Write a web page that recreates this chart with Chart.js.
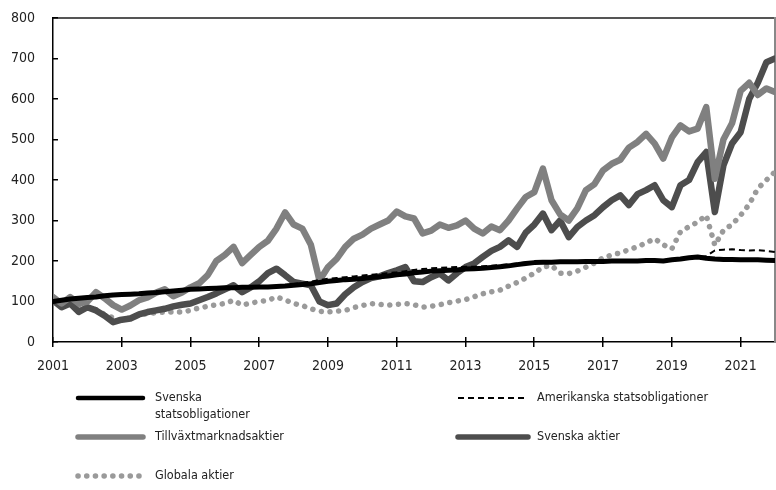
<!DOCTYPE html>
<html>
<head>
<meta charset="utf-8">
<script src="https://cdn.jsdelivr.net/npm/chart.js@4.4.1/dist/chart.umd.min.js"></script>
<style>
  html, body { margin: 0; padding: 0; background: #fff; }
  #wrap { width: 776px; height: 490px; }
</style>
</head>
<body>
<div id="wrap"><canvas id="chart_Avkastning" width="776" height="490"></canvas></div>
<script>
// quarterly observations, 2001 Q1 .. 2022 Q1 (index 100 = start)
const startYear = 2001;
const yearTicks = [2001, 2003, 2005, 2007, 2009, 2011, 2013, 2015, 2017, 2019, 2021];
const yTicks = [0, 100, 200, 300, 400, 500, 600, 700, 800];

const sweBonds = [
  100, 103, 106, 108,  110, 111, 114, 116,  117, 118, 119, 121,  122, 124, 126, 128,
  130, 131, 132, 133,  134, 134, 135, 135,  136, 136, 137, 138,  140, 142, 144, 147,
  150, 152, 154, 155,  157, 159, 161, 163,  166, 168, 171, 173,  175, 176, 177, 178,
  180, 181, 182, 184,  186, 188, 191, 194,  196, 197, 197, 198,  198, 198, 199, 199,
  199, 200, 200, 200,  200, 201, 201, 200,  203, 205, 208, 210,  207, 205, 204, 204,
  203, 203, 203, 202,  201
];
const usBonds = [
  100, 104, 107, 109,  111, 112, 115, 117,  118, 119, 120, 122,  123, 125, 127, 129,
  131, 132, 133, 134,  135, 135, 136, 136,  137, 137, 138, 140,  143, 146, 149, 153,
  156, 158, 160, 162,  164, 166, 168, 170,  172, 175, 178, 180,  182, 183, 184, 185,
  186, 186, 187, 188,  190, 192, 194, 196,  197, 198, 198, 199,  199, 199, 200, 200,
  200, 201, 201, 201,  201, 202, 202, 202,  204, 206, 209, 211,  212, 226, 228, 229,
  227, 226, 227, 225,  222
];
const emStocks = [
  111, 95, 111, 95,    100, 123, 108, 91,   80, 90, 103, 110,    122, 130, 113, 122,
  135, 145, 165, 200,  215, 235, 195, 215,  235, 250, 280, 320,  290, 280, 240, 152,
  185, 205, 235, 255,  265, 280, 290, 300,  322, 310, 305, 268,  275, 290, 282, 288,
  300, 280, 268, 285,  276, 300, 330, 358,  370, 428, 350, 315,  300, 330, 375, 390,
  424, 440, 450, 480,  494, 514, 490, 453,  505, 535, 520, 527,  580, 403, 500, 540,
  620, 640, 610, 626,  617
];
const sweStocks = [
  103, 86, 95, 74,     86, 78, 65, 49,      55, 58, 68, 74,      78, 82, 88, 92,
  95, 103, 111, 120,   130, 140, 123, 135,  150, 170, 181, 165,  148, 144, 140, 100,
  91, 95, 118, 135,    148, 158, 162, 170,  177, 185, 150, 148,  160, 169, 152, 170,
  185, 194, 210, 225,  235, 251, 235, 270,  290, 317, 276, 300,  259, 284, 300, 313,
  333, 350, 362, 338,  365, 375, 387, 350,  333, 387, 400, 444,  469, 321, 436, 490,
  518, 600, 640, 691,  700
];
const globalStocks = [
  99, 97, 95, 90,      86, 80, 68, 60,      54, 60, 67, 70,      72, 74, 74, 74,
  78, 84, 88, 92,      95, 103, 91, 96,     100, 103, 111, 104,  95, 90, 82, 76,
  74, 76, 78, 85,      90, 95, 93, 91,      93, 95, 92, 86,      88, 92, 97, 101,
  105, 112, 119, 124,  128, 138, 147, 158,  170, 185, 189, 170,  169, 175, 185, 195,
  208, 215, 220, 228,  235, 245, 255, 240,  230, 272, 285, 296,  313, 239, 276, 290,
  313, 340, 379, 400,  420
];

function toPoints(values) {
  return values.map((v, i) => ({ x: startYear + i / 4, y: v }));
}

const fontFamily = "'Liberation Sans Narrow', 'DejaVu Sans Condensed', 'Arial Narrow', sans-serif";

const seriesDefs = [
  { label: 'Svenska\nstatsobligationer', data: sweBonds, color: '#000000', width: 5, dash: [], cap: 'round', order: 1 },
  { label: 'Amerikanska statsobligationer', data: usBonds, color: '#000000', width: 2, dash: [6, 4], cap: 'butt', order: 0 },
  { label: 'Tillväxtmarknadsaktier', data: emStocks, color: '#808080', width: 6.5, dash: [], cap: 'round', order: 2 },
  { label: 'Svenska aktier', data: sweStocks, color: '#4d4d4d', width: 6.5, dash: [], cap: 'round', order: 3 },
  { label: 'Globala aktier', data: globalStocks, color: '#9a9a9a', width: 5.5, dash: [0.1, 8.6], cap: 'round', order: 4 }
];

// legend placement (two columns, sample line + text)
const legendSlots = [
  { x: 78, y: 398 },
  { x: 458, y: 398 },
  { x: 78, y: 437 },
  { x: 458, y: 437 },
  { x: 78, y: 476 }
];

// tick marks (inward on y, crossing on x) + legend
const framePlugin = {
  id: 'framePlugin',
  afterDraw(chart) {
    const ctx = chart.ctx;
    const a = chart.chartArea;
    const xs = chart.scales.x;
    const ys = chart.scales.y;
    const L = Math.round(a.left), B = Math.round(a.bottom);
    ctx.save();
    ctx.setLineDash([]);
    ctx.fillStyle = '#000000';
    yTicks.forEach(v => {
      const py = Math.round(ys.getPixelForValue(v));
      ctx.fillRect(L, py - 1, 5, 1.5);
    });
    yearTicks.forEach(v => {
      const px = Math.round(xs.getPixelForValue(v));
      ctx.fillRect(px - 1, B - 5, 1.5, 10);
    });

    ctx.font = '12.5px ' + fontFamily;
    ctx.fillStyle = '#222';
    ctx.textBaseline = 'middle';
    ctx.textAlign = 'left';
    seriesDefs.forEach((s, i) => {
      const slot = legendSlots[i];
      ctx.strokeStyle = s.color;
      ctx.lineWidth = s.width === 2 ? 2 : (s.width > 5.4 ? 5.5 : 4.5);
      ctx.lineCap = s.cap;
      ctx.setLineDash(s.dash);
      ctx.beginPath();
      ctx.moveTo(slot.x, slot.y);
      ctx.lineTo(slot.x + (i % 2 === 1 ? 70 : 65), slot.y);
      ctx.stroke();
      ctx.setLineDash([]);
      const lines = s.label.split('\n');
      const tx = slot.x + (i % 2 === 1 ? 79 : 77);
      lines.forEach((t, k) => ctx.fillText(t, tx, slot.y + k * 17));
    });
    ctx.restore();
  }
};

const ctx = document.getElementById('chart_Avkastning');

new Chart(ctx, {
  type: 'line',
  data: {
    datasets: seriesDefs.map(s => ({
      label: s.label,
      data: toPoints(s.data),
      borderColor: s.color,
      backgroundColor: s.color,
      borderWidth: s.width,
      borderDash: s.dash,
      borderCapStyle: s.cap,
      borderJoinStyle: 'round',
      pointRadius: 0,
      tension: 0,
      fill: false,
      order: s.order
    }))
  },
  options: {
    responsive: false,
    animation: false,
    layout: {
      padding: { top: 18, right: 1, left: 0, bottom: 100 }
    },
    scales: {
      x: {
        type: 'linear',
        min: 2001,
        max: 2022,
        afterBuildTicks: scale => {
          scale.ticks = yearTicks.map(v => ({ value: v }));
        },
        afterFit: scale => {
          scale.height = 48;
          scale.paddingLeft = 0;
          scale.paddingRight = 0;
        },
        grid: { display: false, drawTicks: false },
        border: { display: true, color: '#000000', width: 1.5 },
        ticks: {
          autoSkip: false,
          maxRotation: 0,
          padding: 16,
          color: '#222',
          font: { family: fontFamily, size: 14 },
          callback: v => String(v)
        }
      },
      xTop: {
        type: 'linear',
        position: 'top',
        min: 2001,
        max: 2022,
        afterFit: scale => {
          scale.height = 0;
          scale.paddingLeft = 0;
          scale.paddingRight = 0;
        },
        grid: { display: false, drawTicks: false },
        border: { display: true, color: '#555555', width: 2 },
        ticks: { display: false }
      },
      y: {
        min: 0,
        max: 800,
        afterFit: scale => {
          scale.width = 53;
          scale.paddingTop = 0;
          scale.paddingBottom = 0;
        },
        grid: { display: false, drawTicks: false },
        border: { display: true, color: '#000000', width: 1.5 },
        ticks: {
          stepSize: 100,
          padding: 18,
          color: '#222',
          font: { family: fontFamily, size: 14 }
        }
      },
      yRight: {
        position: 'right',
        min: 0,
        max: 800,
        afterFit: scale => {
          scale.width = 0;
          scale.paddingTop = 0;
          scale.paddingBottom = 0;
        },
        grid: { display: false, drawTicks: false },
        border: { display: true, color: '#888888', width: 2 },
        ticks: { display: false }
      }
    },
    plugins: {
      legend: { display: false },
      tooltip: { enabled: false }
    }
  },
  plugins: [framePlugin]
});
</script>
</body>
</html>
